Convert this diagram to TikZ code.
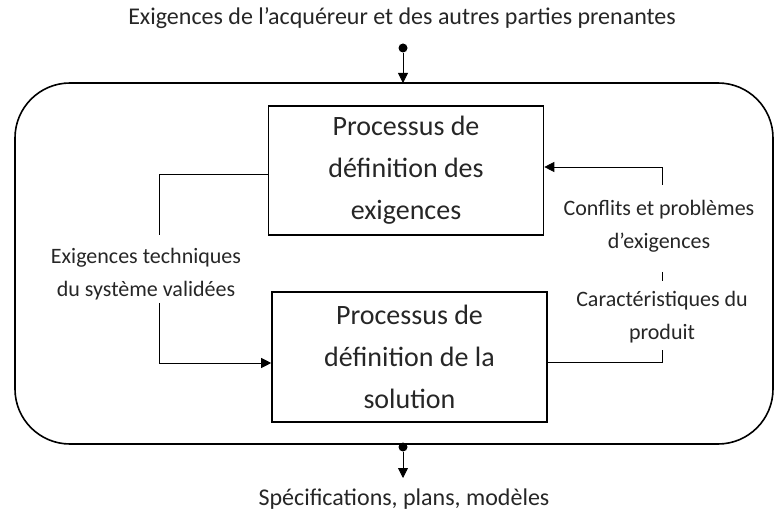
\documentclass[tikz,border=0pt]{standalone}
\usepackage{fontspec}
\setmainfont{Carlito}
\usetikzlibrary{arrows.meta}
\begin{document}
\begin{tikzpicture}[
    x=1pt, y=-1pt,
    font=\fontsize{22}{33}\selectfont,
    text=black!85,
    process/.style={draw=black, line width=1.6pt, minimum width=275pt, minimum height=129pt, inner sep=0pt, align=center, font=\fontsize{28}{42}\selectfont},
    note/.style={align=center, inner sep=0pt},
    caption/.style={font=\fontsize{24}{28}\selectfont},
    dot/.style={circle, fill=black, minimum size=9pt, inner sep=0pt},
    flow/.style={-{Triangle[length=10pt, width=10pt]}, line width=0.8pt},
    link/.style={line width=0.8pt}
  ]
  \useasboundingbox (0,0) rectangle (776,518);

  % System boundary
  \draw[line width=1.6pt, rounded corners=55pt] (15,83) rectangle (773,444);

  % The two processes
  \node[process] (reqdef) at (406,170.5) {Processus de\\définition des\\exigences};
  \node[process, minimum height=130pt] (soldef) at (409.5,357) {Processus de\\définition de la\\solution};

  % Input and output of the system
  \node[caption] (buyer) at (402,18) {Exigences de l’acquéreur et des autres parties prenantes};
  \node[dot] (indot) at (403,48) {};
  \coordinate (inend) at (403,83);
  \draw[flow] (indot) -- (inend);

  \node[dot] (outdot) at (403,447) {};
  \coordinate (outend) at (403,478);
  \draw[flow] (outdot) -- (outend);
  \node[caption] (specs) at (404,499) {Spécifications, plans, modèles};

  % Requirements down to the solution
  \node[note] (validated) at (146,274) {Exigences techniques\\du système validées};
  \coordinate (vtop) at (159,235);
  \coordinate (vbot) at (159,303);
  \draw[link] ([yshift=-3.5pt]reqdef.west) -| (vtop);
  \draw[flow] (vbot) |- ([yshift=-6pt]soldef.west);

  % Feedback from the solution
  \node[note] (product) at (662,317) {Caractéristiques du\\produit};
  \node[note] (conflicts) at (659,226) {Conflits et problèmes\\d’exigences};
  \coordinate (cbot) at (662,350);
  \coordinate (cmida) at (662,272);
  \coordinate (cmidb) at (662,281);
  \coordinate (ctop) at (662,185);
  \draw[link] ([yshift=-5pt]soldef.east) -| (cbot);
  \draw[link] (cmida) -- (cmidb);
  \draw[flow] (ctop) |- ([yshift=3.5pt]reqdef.east);

\end{tikzpicture}
\end{document}
